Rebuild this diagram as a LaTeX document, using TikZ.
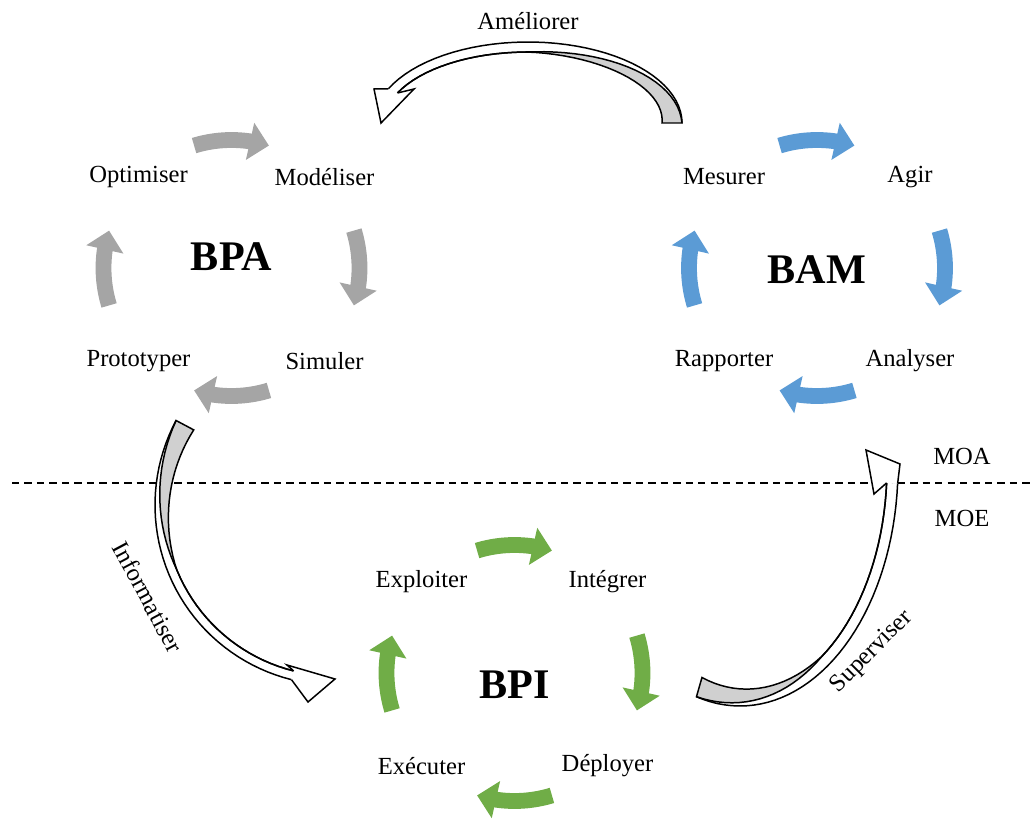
\documentclass[tikz,border=0pt]{standalone}
\usepackage{fontspec}
\setmainfont{Liberation Serif}
\usetikzlibrary{arrows.meta,bending}
\definecolor{bpagray}{HTML}{A5A5A5}
\definecolor{bamblue}{HTML}{5B9BD5}
\definecolor{bpigreen}{HTML}{70AD47}
\definecolor{backgray}{HTML}{D0D0D0}

\begin{document}
\begin{tikzpicture}[x=0.02cm,y=0.02cm,
    word/.style={font=\fontsize{14}{17}\selectfont},
    cyclename/.style={font=\fontsize{24}{28}\selectfont\bfseries},
    turn/.style={line width=9pt,-{Triangle[length=11pt,width=21pt]}},
    ribbon/.style={line width=0.85pt}]

\useasboundingbox (0,0) rectangle (1035,-821);

% MOA / MOE separation
\coordinate (sepL) at (12,-483);
\coordinate (sepR) at (1030,-483);
\draw[line width=0.6pt,dash pattern=on 4.2pt off 2.9pt] (sepL) -- (sepR);
\node[word] (moa) at (962,-456) {MOA};
\node[word] (moe) at (962,-518) {MOE};

% the three cycles
\coordinate (bpa) at (231.5,-268);
\coordinate (bam) at (817,-268);
\coordinate (bpi) at (514.5,-673);

\foreach \cc/\col/\nm/\dy/\la/\lb/\lc/\ld in
    {bpa/bpagray/BPA/11/Optimiser/Modéliser/Simuler/Prototyper,
     bam/bamblue/BAM/-2/Mesurer/Agir/Analyser/Rapporter,
     bpi/bpigreen/BPI/-12/Exploiter/Intégrer/Déployer/Exécuter}
{
    \node[cyclename] (\cc-name) at ([shift={(0,\dy)}]\cc) {\nm};
    \node[word] (\cc-1) at ([shift={(-93,91)}]\cc) {\la};
    \node[word] (\cc-2) at ([shift={(93,91)}]\cc) {\lb};
    \node[word] (\cc-3) at ([shift={(93,-93)}]\cc) {\lc};
    \node[word] (\cc-4) at ([shift={(-93,-93)}]\cc) {\ld};
    \foreach \s/\e in {107/73,17/-17,-73/-107,197/163}
        \draw[turn,\col] ([shift={(\s:128)}]\cc) arc[start angle=\s,end angle=\e,radius=128];
}

% big ribbons between the cycles
\foreach \n/\cx/\cy/\rx/\ry/\ta/\tb/\tm/\wh in
    {amel/528/-123/154/81/0/155/90/10,
     info/335/-505/180/180/152/256/50/9,
     supe/740/-467/158/239/254/356/50/11}
{
    \fill[backgray] plot[domain=\ta:\tb,samples=40] ({\cx+\rx*cos(\x)},{\cy+\ry*sin(\x)})
        -- plot[domain=\tb:\ta,samples=40] ({\cx+(\rx-\wh-(20-\wh)*max(0,1-(\x-\ta)/\tm))*cos(\x)},{\cy+(\ry-\wh-(20-\wh)*max(0,1-(\x-\ta)/\tm))*sin(\x)}) -- cycle;
    \fill[white] plot[domain=\ta:\tb,samples=40] ({\cx+\rx*cos(\x)},{\cy+\ry*sin(\x)})
        -- plot[domain=\tb:\ta,samples=40] ({\cx+(\rx-\wh*min(1,(\x-\ta)/\tm))*cos(\x)},{\cy+(\ry-\wh*min(1,(\x-\ta)/\tm))*sin(\x)}) -- cycle;
    \draw[ribbon] plot[domain=\tb:\ta,samples=40] ({\cx+(\rx-\wh-(20-\wh)*max(0,1-(\x-\ta)/\tm))*cos(\x)},{\cy+(\ry-\wh-(20-\wh)*max(0,1-(\x-\ta)/\tm))*sin(\x)})
        -- plot[domain=\ta:\tb,samples=40] ({\cx+\rx*cos(\x)},{\cy+\ry*sin(\x)});
    \draw[ribbon] plot[domain=\ta:\tb,samples=40] ({\cx+(\rx-\wh*min(1,(\x-\ta)/\tm))*cos(\x)},{\cy+(\ry-\wh*min(1,(\x-\ta)/\tm))*sin(\x)});
    \coordinate (\n-o) at ({\cx+\rx*cos(\tb)},{\cy+\ry*sin(\tb)});
    \coordinate (\n-i) at ({\cx+(\rx-\wh)*cos(\tb)},{\cy+(\ry-\wh)*sin(\tb)});
}

% arrow heads
\coordinate (amel-tip) at (381,-123);
\coordinate (info-tip) at (335,-679);
\coordinate (supe-tip) at (866,-450);
\filldraw[ribbon,fill=white] (amel-o) -- (374,-89) -- (amel-tip) -- (414,-89) -- (amel-i);
\filldraw[ribbon,fill=white] (info-o) -- (308,-702) -- (info-tip) -- (287,-665) -- (info-i);
\filldraw[ribbon,fill=white] (supe-o) -- (900,-464) -- (supe-tip) -- (874,-494) -- (supe-i);

\node[word] (amel-lbl) at (528,-21) {Améliorer};
\node[word,rotate=-62] (info-lbl) at (148,-597) {Informatiser};
\node[word,rotate=45] (supe-lbl) at (872,-652) {Superviser};
\end{tikzpicture}
\end{document}
